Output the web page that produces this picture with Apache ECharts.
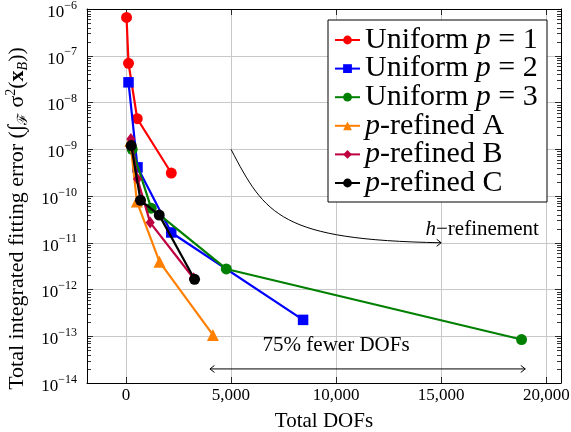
<!DOCTYPE html>
<html>
<head>
<meta charset="utf-8">
<script src="https://cdn.jsdelivr.net/npm/echarts@6/dist/echarts.min.js"></script>
<style>html,body{margin:0;padding:0;background:#fff;}#c{width:571px;height:432px;}</style>
</head>
<body>
<div id="c"></div>
<script>
// ---- data ----
const seriesNames = ['Uniform p = 1', 'Uniform p = 2', 'Uniform p = 3', 'p-refined A', 'p-refined B', 'p-refined C'];
const xUniform1 = [31, 125, 540, 2160];
const yUniform1 = [6.6e-7, 6.9e-8, 4.5e-9, 3.1e-10];
const xUniform2 = [125, 552, 2157, 8430];
const yUniform2 = [2.7e-8, 4.1e-10, 1.66e-11, 2.24e-13];
const xUniform3 = [300, 1205, 4776, 18824];
const yUniform3 = [1.0e-9, 5.5e-11, 2.75e-12, 8.5e-14];
const xRefinedA = [210, 523, 1600, 4140];
const yRefinedA = [1.5e-9, 7.6e-11, 3.9e-12, 1.07e-13];
const xRefinedB = [238, 552, 1157, 3219];
const yRefinedB = [1.65e-9, 2.3e-10, 2.7e-11, 1.74e-12];
const xRefinedC = [252, 695, 1586, 3267];
const yRefinedC = [1.2e-9, 8.1e-11, 3.9e-11, 1.65e-12];
const xTickValues = [0, 5000, 10000, 15000, 20000];
const yDecades = [-14, -13, -12, -11, -10, -9, -8, -7, -6];

const FONT = "'Liberation Serif', serif";
const xMin = -1850, xMax = 20700;
const yMin = 1e-14, yMax = 1e-6;

function pairs(xs, ys) { return xs.map((x, i) => [x, ys[i]]); }
function fmtThousands(v) { return String(v).replace(/\B(?=(\d{3})+(?!\d))/g, ','); }

// minor tick values 2..9 x 10^k
const minorVals = [];
for (let k = yDecades[0]; k < yDecades[yDecades.length - 1]; k++) {
  for (let m = 2; m <= 9; m++) minorVals.push([0, m * Math.pow(10, k)]);
}

const colors = ['#ff0000', '#0000ff', '#008000', '#ff8000', '#bf0040', '#000000'];
const symbols = ['circle', 'rect', 'circle', 'triangle', 'diamond', 'circle'];
const symbolSizes = [11, 10.5, 11, 12, [9, 12], 11];
const dataSets = [
  pairs(xUniform1, yUniform1), pairs(xUniform2, yUniform2), pairs(xUniform3, yUniform3),
  pairs(xRefinedA, yRefinedA), pairs(xRefinedB, yRefinedB), pairs(xRefinedC, yRefinedC)
];

const lineSeries = seriesNames.map((name, i) => ({
  name: name,
  type: 'line',
  data: dataSets[i],
  xAxisIndex: 0, yAxisIndex: 0,
  symbol: symbols[i],
  symbolSize: symbolSizes[i],
  showAllSymbol: true,
  lineStyle: { color: colors[i], width: 2.2 },
  itemStyle: { color: colors[i], borderColor: colors[i], borderWidth: 0 },
  emphasis: { disabled: true },
  animation: false,
  z: 3 + i
}));

// annotation anchors (data coordinates)
const hRefStart = [5000, 1e-9], hRefC1 = [6630, 3.9e-11], hRefC2 = [7350, 1.15e-11], hRefEnd = [15000, 1e-11];
const hRefLabelAt = [16950, 1.95e-11];
const dofArrowL = [4000, 2e-14], dofArrowR = [19000, 2e-14];
const dofLabelAt = [10000, 6.5e-14];

const annotationSeries = {
  type: 'custom',
  xAxisIndex: 0, yAxisIndex: 0,
  data: [[0, 1e-10]],
  silent: true,
  animation: false,
  z: 2,
  renderItem: function (params, api) {
    const p0 = api.coord(hRefStart), c1 = api.coord(hRefC1), c2 = api.coord(hRefC2), p3 = api.coord(hRefEnd);
    const tl = api.coord(hRefLabelAt);
    const aL = api.coord(dofArrowL), aR = api.coord(dofArrowR);
    const dl = api.coord(dofLabelAt);
    const st = { stroke: '#000', lineWidth: 1, fill: null };
    return {
      type: 'group',
      children: [
        { type: 'bezierCurve', shape: { x1: p0[0], y1: p0[1], cpx1: c1[0], cpy1: c1[1], cpx2: c2[0], cpy2: c2[1], x2: p3[0], y2: p3[1] }, style: st },
        { type: 'polyline', shape: { points: [[p3[0] - 4.5, p3[1] - 3.5], [p3[0], p3[1]], [p3[0] - 4.5, p3[1] + 3.5]] }, style: st },
        { type: 'line', shape: { x1: aL[0], y1: aL[1], x2: aR[0], y2: aR[1] }, style: st },
        { type: 'polyline', shape: { points: [[aL[0] + 4.5, aL[1] - 3.5], [aL[0], aL[1]], [aL[0] + 4.5, aL[1] + 3.5]] }, style: st },
        { type: 'polyline', shape: { points: [[aR[0] - 4.5, aR[1] - 3.5], [aR[0], aR[1]], [aR[0] - 4.5, aR[1] + 3.5]] }, style: st },
        { type: 'text', x: tl[0], y: tl[1], style: {
            text: '{i|h}{n|\u2212refinement}', align: 'center', verticalAlign: 'middle', fill: '#000',
            font: "21px 'Liberation Serif', serif",
            rich: {
              i: { font: "italic 21px 'Liberation Serif', serif", fill: '#000' },
              n: { font: "21px 'Liberation Serif', serif", fill: '#000' }
            }
          } },
        { type: 'text', x: dl[0], y: dl[1], style: {
            text: '75% fewer DOFs', align: 'center', verticalAlign: 'middle', fill: '#000',
            font: "21px 'Liberation Serif', serif"
          } }
      ]
    };
  }
};

const minorTickSeries = {
  type: 'custom',
  xAxisIndex: 0, yAxisIndex: 0,
  data: minorVals,
  silent: true,
  animation: false,
  z: 10,
  renderItem: function (params, api) {
    const y = Math.round(api.coord([0, api.value(1)])[1]) + 0.5;
    const cs = params.coordSys;
    const st = { stroke: '#000', lineWidth: 0.8 };
    return {
      type: 'group',
      children: [
        { type: 'line', shape: { x1: cs.x, y1: y, x2: cs.x + 4, y2: y }, style: st },
        { type: 'line', shape: { x1: cs.x + cs.width - 4, y1: y, x2: cs.x + cs.width, y2: y }, style: st }
      ]
    };
  }
};

const legendRich = {
  n: { fontFamily: FONT, fontSize: 30, lineHeight: 28, color: '#000' },
  i: { fontFamily: FONT, fontSize: 30, lineHeight: 28, fontStyle: 'italic', color: '#000' }
};

const option = {
  animation: false,
  backgroundColor: '#fff',
  textStyle: { fontFamily: FONT, color: '#000' },
  grid: { left: 87, right: 10, top: 9, bottom: 49, containLabel: false, outerBoundsMode: 'none' },
  legend: {
    data: seriesNames,
    orient: 'vertical',
    left: 328, top: 20,
    padding: [5, 4, 4, 6],
    itemGap: -1.4,
    itemWidth: 25, itemHeight: 11,
    backgroundColor: '#fff',
    borderColor: '#000', borderWidth: 1, borderRadius: 0,
    selectedMode: false,
    textStyle: { fontFamily: FONT, fontSize: 30, lineHeight: 28, width: 178, overflow: 'none', color: '#000', rich: legendRich },
    formatter: function (name) {
      if (name.indexOf('Uniform') === 0) {
        return '{n|Uniform }{i|p}{n| = ' + name.slice(-1) + '}';
      }
      return '{i|p}{n|-refined ' + name.slice(-1) + '}';
    }
  },
  xAxis: [{
    type: 'value', position: 'bottom',
    min: xMin, max: xMax, splitNumber: 5,
    name: 'Total DOFs', nameLocation: 'middle', nameGap: 28,
    nameTextStyle: { fontFamily: FONT, fontSize: 21, color: '#000' },
    axisLine: { show: true, onZero: false, lineStyle: { color: '#000', width: 1 } },
    axisTick: { show: true, inside: true, length: 6, lineStyle: { color: '#000', width: 0.8 } },
    axisLabel: {
      margin: 4, fontFamily: FONT, fontSize: 17, color: '#000',
      formatter: function (v) { return xTickValues.indexOf(v) >= 0 ? fmtThousands(v) : ''; }
    },
    splitLine: { show: true, lineStyle: { color: '#c8c8c8', width: 1 } }
  }, {
    type: 'value', position: 'top',
    min: xMin, max: xMax, splitNumber: 5,
    axisLine: { show: true, onZero: false, lineStyle: { color: '#000', width: 1 } },
    axisTick: { show: true, inside: true, length: 6, lineStyle: { color: '#000', width: 0.8 } },
    axisLabel: { show: false },
    splitLine: { show: false }
  }],
  yAxis: [{
    type: 'log', logBase: 10, position: 'left',
    min: yMin, max: yMax, splitNumber: 8,
    name: '{n|Total integrated fitting error (\u222B}{sub|\u2131}{n| \u03C3}{sup|2}{n|(}{b|x}{subi|B}{n|))}',
    nameLocation: 'middle', nameGap: 53, nameRotate: 90,
    nameTextStyle: {
      fontFamily: FONT, fontSize: 22, color: '#000',
      padding: [0, 45, 0, 0],
      rich: {
        n: { fontFamily: FONT, fontSize: 22, lineHeight: 26, color: '#000' },
        b: { fontFamily: FONT, fontSize: 22, lineHeight: 26, fontWeight: 'bold', color: '#000' },
        sub: { fontFamily: FONT, fontSize: 14, lineHeight: 14, verticalAlign: 'bottom', color: '#000' },
        subi: { fontFamily: FONT, fontSize: 14, lineHeight: 14, verticalAlign: 'bottom', fontStyle: 'italic', color: '#000' },
        sup: { fontFamily: FONT, fontSize: 14, lineHeight: 14, verticalAlign: 'top', color: '#000' }
      }
    },
    axisLine: { show: true, onZero: false, lineStyle: { color: '#000', width: 1 } },
    axisTick: { show: true, inside: true, length: 6, lineStyle: { color: '#000', width: 0.8 } },
    axisLabel: {
      margin: 10, padding: [7, 0, 0, 0],
      formatter: function (v) {
        const e = Math.round(Math.log10(v));
        return '{b|10}{s|\u2212' + (-e) + '}';
      },
      rich: {
        b: { fontFamily: FONT, fontSize: 17, lineHeight: 26, color: '#000' },
        s: { fontFamily: FONT, fontSize: 12, lineHeight: 12, verticalAlign: 'top', color: '#000' }
      }
    },
    splitLine: { show: true, lineStyle: { color: '#c8c8c8', width: 1 } }
  }, {
    type: 'log', logBase: 10, position: 'right',
    min: yMin, max: yMax, splitNumber: 8,
    axisLine: { show: true, onZero: false, lineStyle: { color: '#000', width: 1 } },
    axisTick: { show: true, inside: true, length: 6, lineStyle: { color: '#000', width: 0.8 } },
    axisLabel: { show: false },
    splitLine: { show: false }
  }],
  series: [annotationSeries, minorTickSeries].concat(lineSeries)
};

const chart = echarts.init(document.getElementById('c'), null, { renderer: 'canvas' });
chart.setOption(option);
</script>
</body>
</html>
